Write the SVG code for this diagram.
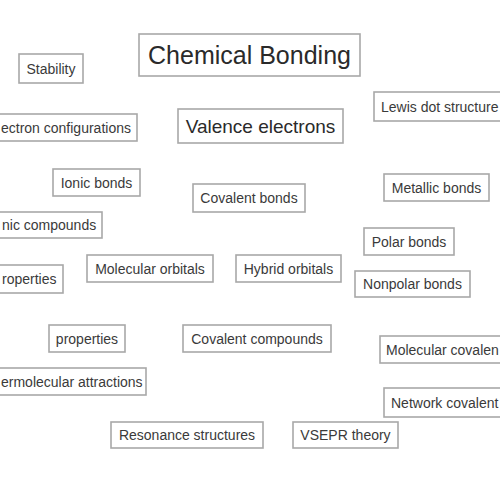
<svg xmlns="http://www.w3.org/2000/svg" width="500" height="500" viewBox="0 0 500 500">
<style>
rect{fill:#fff;stroke:#a8a8a8;stroke-width:1.6}
text{font-family:"Liberation Sans",Arial,sans-serif;font-size:14px;fill:#3a3a3a;text-anchor:middle;dominant-baseline:central}
.s{text-anchor:start}
</style>
<rect x="0" y="0" width="500" height="500" style="fill:#fff;stroke:none"/>
<g id="connectors"></g>
<g id="chemical-bonding"><rect x="139" y="34" width="221" height="42"/><text x="249.5" y="55" style="font-size:25px;fill:#2a2a2a">Chemical Bonding</text></g>
<g id="stability"><rect x="19" y="54" width="64" height="29"/><text x="51" y="68.5">Stability</text></g>
<g id="electron-configurations"><rect x="-23" y="114" width="160" height="27"/><text class="s" x="1" y="127.5">ectron configurations</text></g>
<g id="valence-electrons"><rect x="178" y="109" width="165" height="34"/><text x="260.5" y="126" style="font-size:19px;fill:#2a2a2a">Valence electrons</text></g>
<g id="lewis-dot-structures"><rect x="374" y="92" width="140" height="29"/><text class="s" x="381" y="106.5">Lewis dot structure</text></g>
<g id="ionic-bonds"><rect x="53" y="169" width="87" height="27"/><text x="96.5" y="182.5">Ionic bonds</text></g>
<g id="covalent-bonds"><rect x="193" y="184" width="112" height="28"/><text x="249" y="198">Covalent bonds</text></g>
<g id="metallic-bonds"><rect x="384" y="174" width="105" height="27"/><text x="436.5" y="187.5">Metallic bonds</text></g>
<g id="ionic-compounds"><rect x="-16" y="212" width="118" height="26"/><text class="s" x="2" y="225">nic compounds</text></g>
<g id="polar-bonds"><rect x="364" y="228" width="90" height="27"/><text x="409" y="241.5">Polar bonds</text></g>
<g id="properties-1"><rect x="-13" y="265" width="76" height="28"/><text class="s" x="2" y="279">roperties</text></g>
<g id="molecular-orbitals"><rect x="87" y="255" width="126" height="27"/><text x="150" y="268.5">Molecular orbitals</text></g>
<g id="hybrid-orbitals"><rect x="236" y="255" width="105" height="27"/><text x="288.5" y="268.5">Hybrid orbitals</text></g>
<g id="nonpolar-bonds"><rect x="355" y="271" width="115" height="26"/><text x="412.5" y="284">Nonpolar bonds</text></g>
<g id="properties-2"><rect x="49" y="325" width="76" height="27"/><text x="87" y="338.5">properties</text></g>
<g id="covalent-compounds"><rect x="183" y="325" width="148" height="27"/><text x="257" y="338.5">Covalent compounds</text></g>
<g id="molecular-covalent"><rect x="380" y="336" width="140" height="27"/><text class="s" x="386" y="349.5">Molecular covalen</text></g>
<g id="intermolecular-attractions"><rect x="-25" y="368" width="171" height="27"/><text class="s" x="1" y="381.5">ermolecular attractions</text></g>
<g id="network-covalent"><rect x="384" y="388" width="140" height="29"/><text class="s" x="391" y="402.5">Network covalent</text></g>
<g id="resonance-structures"><rect x="111" y="422" width="152" height="26"/><text x="187" y="435">Resonance structures</text></g>
<g id="vsepr-theory"><rect x="293" y="422" width="105" height="26"/><text x="345.5" y="435">VSEPR theory</text></g>
</svg>
